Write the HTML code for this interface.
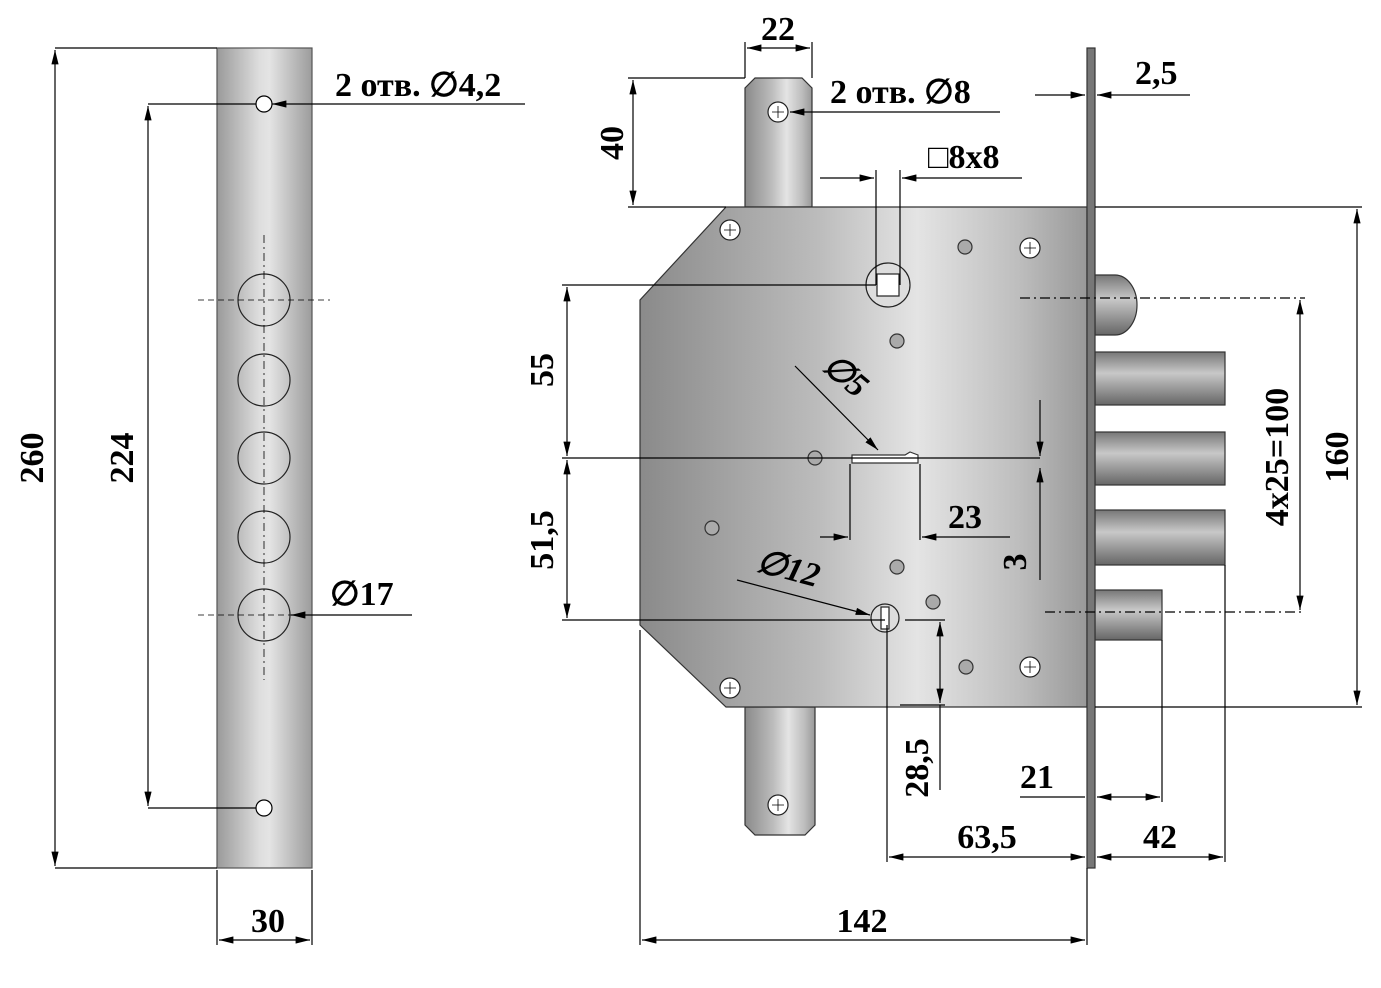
<!DOCTYPE html>
<html><head><meta charset="utf-8"><style>
html,body{margin:0;padding:0;background:#fff}
text{font-family:"Liberation Serif",serif;font-weight:bold;fill:#000}
</style></head><body>
<svg width="1381" height="983" viewBox="0 0 1381 983" xmlns="http://www.w3.org/2000/svg">
<defs>
<linearGradient id="g1" x1="0" x2="1" y1="0" y2="0">
<stop offset="0" stop-color="#9a9a9a"/><stop offset="0.45" stop-color="#dedede"/><stop offset="0.55" stop-color="#e4e4e4"/><stop offset="1" stop-color="#9c9c9c"/></linearGradient>
<linearGradient id="g2" x1="0" x2="1" y1="0" y2="0">
<stop offset="0" stop-color="#8a8a8a"/><stop offset="0.4" stop-color="#bcbcbc"/><stop offset="0.62" stop-color="#e4e4e4"/><stop offset="0.85" stop-color="#bdbdbd"/><stop offset="1" stop-color="#999"/></linearGradient>
<linearGradient id="g3" x1="0" x2="0" y1="0" y2="1">
<stop offset="0" stop-color="#777"/><stop offset="0.4" stop-color="#c8c8c8"/><stop offset="1" stop-color="#666"/></linearGradient>
<marker id="a" viewBox="0 0 12 6" refX="12" refY="3" markerWidth="12" markerHeight="6" orient="auto-start-reverse"><path d="M0,0L12,3L0,6z" fill="#000"/></marker>
</defs>
<g stroke="#000" stroke-width="1.2" fill="none">
<rect x="217" y="48" width="95" height="820" fill="url(#g1)" stroke="#555"/>
<g stroke="#222"><circle cx="264" cy="300" r="26"/><circle cx="264" cy="380" r="26"/><circle cx="264" cy="458" r="26"/><circle cx="264" cy="537" r="26"/><circle cx="264" cy="615" r="26"/></g>
<line x1="264" y1="235" x2="264" y2="680" stroke-dasharray="8,4,2,4" stroke-width="0.8"/>
<line x1="198" y1="300" x2="330" y2="300" stroke-dasharray="6,4" stroke-width="0.8"/>
<line x1="198" y1="615" x2="330" y2="615" stroke-dasharray="6,4" stroke-width="0.8"/>
<circle cx="264" cy="104" r="8" fill="#fff"/><circle cx="264" cy="808" r="8" fill="#fff"/>
<line x1="55" y1="48" x2="217" y2="48"/><line x1="55" y1="868" x2="217" y2="868"/>
<line x1="55" y1="50" x2="55" y2="866" marker-start="url(#a)" marker-end="url(#a)"/>
<line x1="148" y1="104" x2="256" y2="104"/><line x1="148" y1="808" x2="256" y2="808"/>
<line x1="148" y1="106" x2="148" y2="806" marker-start="url(#a)" marker-end="url(#a)"/>
<line x1="217" y1="870" x2="217" y2="945"/><line x1="312" y1="870" x2="312" y2="945"/>
<line x1="219" y1="940" x2="310" y2="940" marker-start="url(#a)" marker-end="url(#a)"/>
<line x1="525" y1="104" x2="272" y2="104" marker-end="url(#a)"/>
<line x1="412" y1="615" x2="291" y2="615" marker-end="url(#a)"/>
<path d="M745,207 V88 L755,78 H802 L812,88 V207Z" fill="url(#g2)" stroke="#333"/>
<path d="M745,707 V825 L755,835 H805 L815,825 V707Z" fill="url(#g2)" stroke="#333"/>
<rect x="1095" y="352" width="130" height="53" fill="url(#g3)" stroke="#333"/>
<rect x="1095" y="432" width="130" height="53" fill="url(#g3)" stroke="#333"/>
<rect x="1095" y="510" width="130" height="55" fill="url(#g3)" stroke="#333"/>
<rect x="1095" y="590" width="67" height="50" fill="url(#g3)" stroke="#333"/>
<path d="M1095,275 H1115 A22,30 0 0 1 1115,335 H1095Z" fill="url(#g3)" stroke="#333"/>
<path d="M726,207 H1087 V707 H726 L640,625 V300Z" fill="url(#g2)" stroke="#333"/>
<rect x="1087" y="48" width="8" height="820" fill="#777" stroke="#333"/>
<g fill="#fff" stroke="#222">
<circle cx="778" cy="112" r="10"/><circle cx="778" cy="805" r="10"/>
<circle cx="730" cy="230" r="10"/><circle cx="730" cy="688" r="10"/>
<circle cx="1030" cy="248" r="10"/><circle cx="1030" cy="667" r="10"/>
<circle cx="888" cy="285" r="22" fill="#ddd"/><rect x="877" y="274" width="22" height="22"/>
<circle cx="885" cy="618" r="14" fill="#ddd"/><rect x="881" y="607" width="8" height="22"/>
</g>
<g fill="#aaa" stroke="#333"><circle cx="965" cy="247" r="7"/><circle cx="897" cy="341" r="7"/><circle cx="815" cy="458" r="7"/><circle cx="712" cy="528" r="7"/><circle cx="897" cy="567" r="7"/><circle cx="933" cy="602" r="7"/><circle cx="966" cy="667" r="7"/></g>
<path d="M852,455 H905 L910,452 L918,455 V463 H852Z" fill="#fff" stroke="#333"/>
<g stroke-width="0.8"><path d="M724,230h12M730,224v12M772,112h12M778,106v12M772,805h12M778,799v12M724,688h12M730,682v12M1024,248h12M1030,242v12M1024,667h12M1030,661v12"/></g>
<line x1="745" y1="78" x2="745" y2="42"/><line x1="812" y1="78" x2="812" y2="42"/>
<line x1="747" y1="48" x2="810" y2="48" marker-start="url(#a)" marker-end="url(#a)"/>
<line x1="628" y1="78" x2="745" y2="78"/><line x1="628" y1="207" x2="726" y2="207"/>
<line x1="633" y1="80" x2="633" y2="205" marker-start="url(#a)" marker-end="url(#a)"/>
<line x1="1000" y1="112" x2="790" y2="112" marker-end="url(#a)"/>
<line x1="876" y1="170" x2="876" y2="285"/><line x1="900" y1="170" x2="900" y2="285"/>
<line x1="820" y1="178" x2="874" y2="178" marker-end="url(#a)"/><line x1="1022" y1="178" x2="902" y2="178" marker-end="url(#a)"/>
<line x1="1035" y1="95" x2="1085" y2="95" marker-end="url(#a)"/><line x1="1190" y1="95" x2="1097" y2="95" marker-end="url(#a)"/>
<line x1="1095" y1="207" x2="1362" y2="207"/><line x1="1095" y1="707" x2="1362" y2="707"/>
<line x1="1357" y1="209" x2="1357" y2="705" marker-start="url(#a)" marker-end="url(#a)"/>
<line x1="1020" y1="298" x2="1305" y2="298" stroke-dasharray="10,4,2,4"/><line x1="1045" y1="612" x2="1305" y2="612" stroke-dasharray="10,4,2,4"/>
<line x1="1300" y1="300" x2="1300" y2="610" marker-start="url(#a)" marker-end="url(#a)"/>
<line x1="562" y1="285" x2="876" y2="285"/><line x1="562" y1="458" x2="1040" y2="458"/><line x1="562" y1="620" x2="885" y2="620"/>
<line x1="567" y1="287" x2="567" y2="456" marker-start="url(#a)" marker-end="url(#a)"/>
<line x1="567" y1="460" x2="567" y2="618" marker-start="url(#a)" marker-end="url(#a)"/>
<line x1="640" y1="630" x2="640" y2="945"/><line x1="1087" y1="868" x2="1087" y2="945"/>
<line x1="642" y1="940" x2="1085" y2="940" marker-start="url(#a)" marker-end="url(#a)"/>
<line x1="887" y1="625" x2="887" y2="862"/>
<line x1="889" y1="857" x2="1085" y2="857" marker-start="url(#a)" marker-end="url(#a)"/>
<line x1="1225" y1="565" x2="1225" y2="862"/>
<line x1="1097" y1="857" x2="1223" y2="857" marker-start="url(#a)" marker-end="url(#a)"/>
<line x1="1162" y1="640" x2="1162" y2="802"/>
<line x1="1020" y1="797" x2="1085" y2="797"/><line x1="1097" y1="797" x2="1160" y2="797" marker-start="url(#a)" marker-end="url(#a)"/>
<line x1="905" y1="620" x2="945" y2="620"/><line x1="900" y1="705" x2="945" y2="705"/>
<line x1="940" y1="622" x2="940" y2="703" marker-start="url(#a)" marker-end="url(#a)"/>
<line x1="940" y1="705" x2="940" y2="790"/>
<line x1="1040" y1="400" x2="1040" y2="456" marker-end="url(#a)"/><line x1="1040" y1="580" x2="1040" y2="468" marker-end="url(#a)"/>
<line x1="850" y1="464" x2="850" y2="540"/><line x1="920" y1="464" x2="920" y2="540"/>
<line x1="820" y1="537" x2="848" y2="537" marker-end="url(#a)"/><line x1="1010" y1="537" x2="922" y2="537" marker-end="url(#a)"/>
<line x1="795" y1="366" x2="878" y2="450" marker-end="url(#a)"/>
<line x1="737" y1="580" x2="870" y2="615" marker-end="url(#a)"/>
</g>
<g font-size="34">
<text x="35" y="458" transform="rotate(-90 35 458)" text-anchor="middle" dominant-baseline="middle">260</text>
<text x="125" y="458" transform="rotate(-90 125 458)" text-anchor="middle" dominant-baseline="middle">224</text>
<text x="268" y="932" text-anchor="middle">30</text>
<text x="335" y="96" font-size="34">2 отв. ∅4,2</text>
<text x="330" y="605">∅17</text>
<text x="778" y="40" text-anchor="middle">22</text>
<text x="615" y="143" transform="rotate(-90 615 143)" text-anchor="middle" dominant-baseline="middle">40</text>
<text x="830" y="103" font-size="34">2 отв. ∅8</text>
<text x="928" y="168">□8x8</text>
<text x="1135" y="84">2,5</text>
<text x="1340" y="457" transform="rotate(-90 1340 457)" text-anchor="middle" dominant-baseline="middle">160</text>
<text x="1280" y="457" transform="rotate(-90 1280 457)" text-anchor="middle" dominant-baseline="middle">4x25=100</text>
<text x="545" y="370" transform="rotate(-90 545 370)" text-anchor="middle" dominant-baseline="middle">55</text>
<text x="545" y="540" transform="rotate(-90 545 540)" text-anchor="middle" dominant-baseline="middle">51,5</text>
<text x="862" y="932" text-anchor="middle">142</text>
<text x="987" y="848" text-anchor="middle">63,5</text>
<text x="1160" y="848" text-anchor="middle">42</text>
<text x="1037" y="788" text-anchor="middle">21</text>
<text x="920" y="768" transform="rotate(-90 920 768)" text-anchor="middle" dominant-baseline="middle">28,5</text>
<text x="1018" y="562" transform="rotate(-90 1018 562)" text-anchor="middle" dominant-baseline="middle">3</text>
<text x="965" y="528" text-anchor="middle">23</text>
<text x="815" y="385" font-style="italic" transform="rotate(40 840 385)">∅5</text>
<text x="755" y="580" font-style="italic" transform="rotate(15 790 575)">∅12</text>
</g>
</svg>
</body></html>
